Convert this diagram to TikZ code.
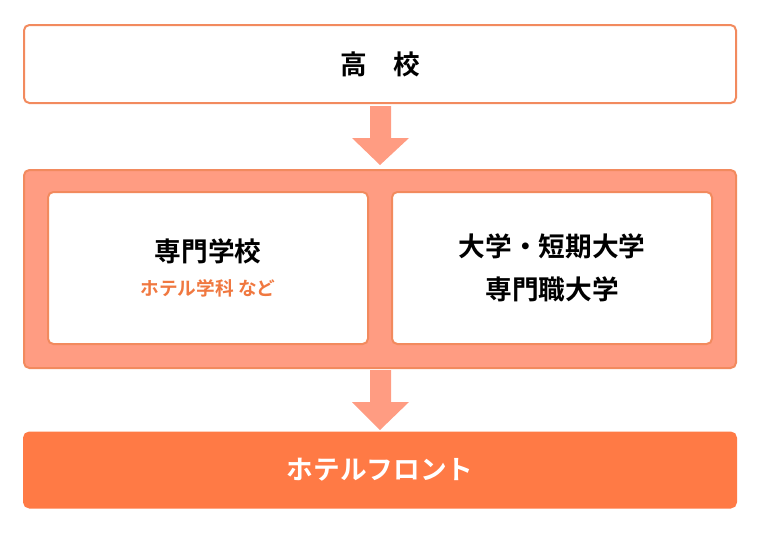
\documentclass[tikz,border=0pt]{standalone}
\usepackage{fontspec}
\setmainfont{Noto Sans CJK JP}[BoldFont={* Bold}]
\usetikzlibrary{positioning}
\definecolor{edgeorange}{HTML}{F28A5E}
\definecolor{salmon}{HTML}{FF9C82}
\definecolor{frontorange}{HTML}{FF7A45}
\definecolor{subtext}{HTML}{F07840}
\tikzset{
  box/.style={draw=edgeorange,line width=1.5pt,rounded corners=4pt,fill=white,font=\bfseries\fontsize{20}{32}\selectfont},
  downarrow/.style={fill=salmon,draw=none}
}
\begin{document}
\begin{tikzpicture}[x=0.75pt,y=-0.75pt]
\useasboundingbox (0,0) rectangle (760,536);
\node[box,minimum width=712*0.75pt,minimum height=78*0.75pt] (highschool) at (380,64) {高\hspace{1em}校};
\node[box,fill=salmon,minimum width=712*0.75pt,minimum height=198*0.75pt] (schools) at (380,269) {};
\node[box,minimum width=320*0.75pt,minimum height=152*0.75pt,align=center] (senmon) at (208,268)
  {専門学校\\[-6pt]{\color{subtext}\fontsize{14}{18}\selectfont ホテル学科 など}};
\node[box,minimum width=320*0.75pt,minimum height=152*0.75pt,align=center] (daigaku) at (552,268)
  {大学・短期大学\\専門職大学};
\node[box,fill=frontorange,draw=frontorange,text=white,minimum width=712*0.75pt,minimum height=75*0.75pt] (front) at (380,470) {ホテルフロント};
% arrows
\fill[downarrow] (370,106) -- (391,106) -- (391,138) -- (409,138) -- (380,165) -- (352,138) -- (370,138) -- cycle;
\fill[downarrow] (370,370) -- (391,370) -- (391,402) -- (409,402) -- (380,430) -- (352,402) -- (370,402) -- cycle;
\end{tikzpicture}
\end{document}
